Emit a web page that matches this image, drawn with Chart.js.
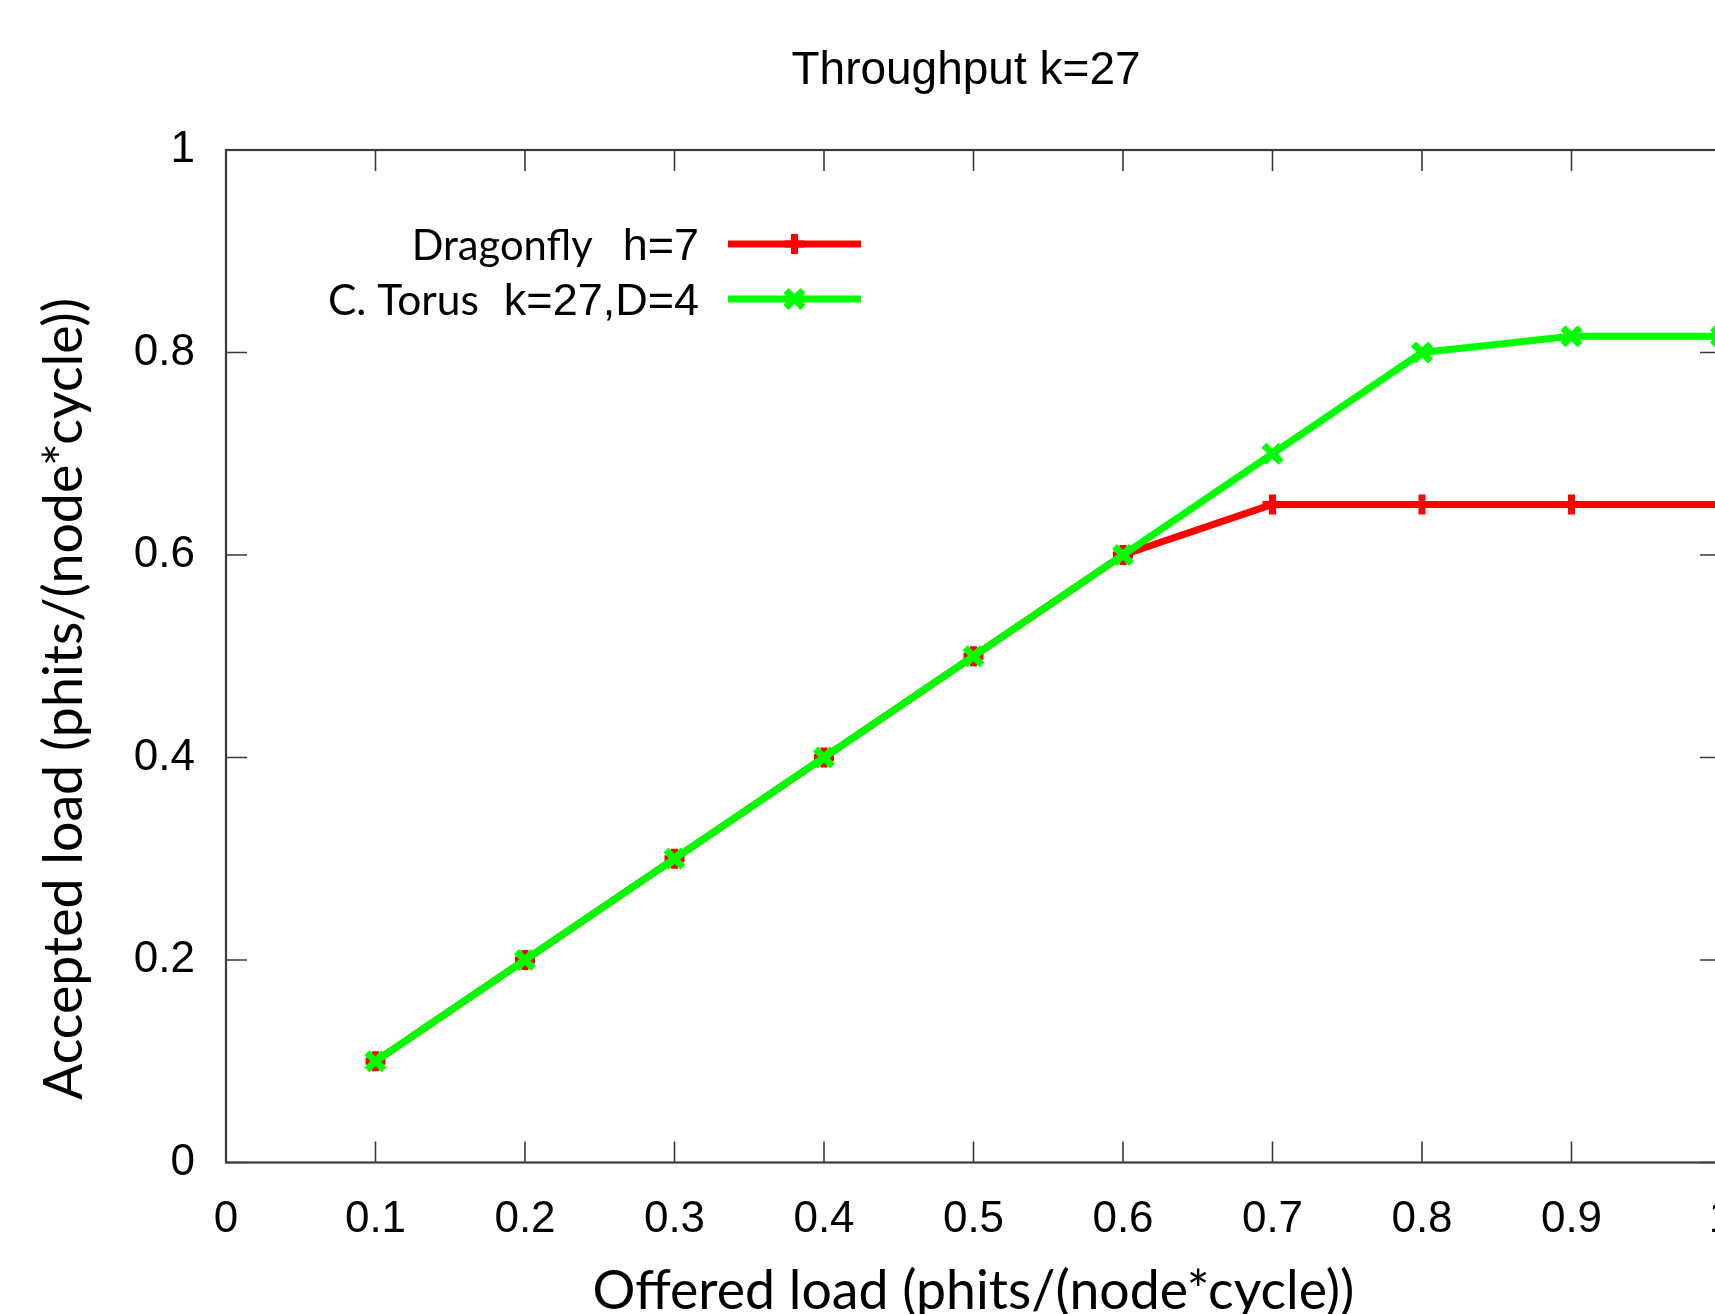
<!DOCTYPE html>
<html>
<head>
<meta charset="utf-8">
<script src="https://cdn.jsdelivr.net/npm/chart.js@4.4.1/dist/chart.umd.min.js"></script>
<style>
  html, body { margin: 0; padding: 0; background: #fff; overflow: hidden; }
  #wrap { position: absolute; left: 0; top: 0; width: 1800px; height: 1340px; }
</style>
</head>
<body>
<div id="wrap"><canvas id="my-chart" width="1800" height="1340"></canvas></div>
<script>
const offeredLoad = [0.1, 0.2, 0.3, 0.4, 0.5, 0.6, 0.7, 0.8, 0.9, 1.0];
const dragonfly = [0.1, 0.2, 0.3, 0.4, 0.5, 0.6, 0.65, 0.65, 0.65, 0.65];
const torus = [0.1, 0.2, 0.3, 0.4, 0.5, 0.6, 0.7, 0.8, 0.816, 0.816];
const seriesNames = ["Dragonfly", "C. Torus"];
const seriesParams = ["h=7", "k=27,D=4"];
const chartTitle = "Throughput k=27";
const xTitle = "Offered load (phits/(node*cycle))";
const yTitle = "Accepted load (phits/(node*cycle))";

const ARIAL = "'Liberation Sans', Arial, sans-serif";
const CALI = "Lato, 'Open Sans', sans-serif";
const AXIS = "#3a3a3a";

// font size that makes a string a given width
const fitSize = (ctx, text, family, width) => {
  ctx.font = `100px ${family}`;
  return (100 * width) / ctx.measureText(text).width;
};

const toPoints = (ys) => offeredLoad.map((x, i) => ({ x: x, y: ys[i] }));

// gnuplot style box, inward ticks, titles and legend
const gnuplotLook = {
  id: "gnuplotLook",
  afterDatasetsDraw(chart) {
    const ctx = chart.ctx;
    const a = chart.chartArea;
    const xs = chart.scales.x;
    const ys = chart.scales.y;
    ctx.save();

    // inward tick marks on all four sides
    ctx.strokeStyle = AXIS;
    ctx.lineWidth = 1.6;
    ctx.beginPath();
    xs.ticks.forEach((t) => {
      const px = xs.getPixelForValue(t.value);
      ctx.moveTo(px, a.bottom); ctx.lineTo(px, a.bottom - 21);
      ctx.moveTo(px, a.top); ctx.lineTo(px, a.top + 21);
    });
    ys.ticks.forEach((t) => {
      const py = ys.getPixelForValue(t.value);
      ctx.moveTo(a.left, py); ctx.lineTo(a.left + 21, py);
      ctx.moveTo(a.right, py); ctx.lineTo(a.right - 21, py);
    });
    ctx.stroke();

    ctx.lineWidth = 2.2;
    ctx.strokeRect(a.left, a.top, a.right - a.left, a.bottom - a.top);

    // title
    ctx.fillStyle = "#000";
    ctx.font = `46px ${ARIAL}`;
    ctx.textAlign = "center";
    ctx.textBaseline = "alphabetic";
    ctx.fillText(chartTitle, 966, 84);

    // x axis title
    let s = fitSize(ctx, xTitle, CALI, 762);
    ctx.font = `${s}px ${CALI}`;
    ctx.fillText(xTitle, (a.left + a.right) / 2, 1309);

    // y axis title
    s = fitSize(ctx, yTitle, CALI, 802);
    ctx.save();
    ctx.translate(82, 699);
    ctx.rotate(-Math.PI / 2);
    ctx.font = `${s}px ${CALI}`;
    ctx.fillText(yTitle, 0, 0);
    ctx.restore();

    // legend
    const nameWidths = [181, 151];
    const gaps = [30, 25];
    chart.data.datasets.forEach((ds, i) => {
      const ly = 244 + i * 55;
      ctx.textAlign = "right";
      ctx.font = `45px ${ARIAL}`;
      ctx.fillText(seriesParams[i], 699, ly + 16);
      const pw = ctx.measureText(seriesParams[i]).width;
      const ns = fitSize(ctx, seriesNames[i], CALI, nameWidths[i]);
      ctx.font = `${ns}px ${CALI}`;
      ctx.fillText(seriesNames[i], 699 - pw - gaps[i], ly + 16);

      ctx.strokeStyle = ds.borderColor;
      ctx.lineWidth = ds.borderWidth;
      ctx.beginPath();
      ctx.moveTo(728, ly);
      ctx.lineTo(861, ly);
      ctx.stroke();
      Chart.helpers.drawPoint(ctx, {
        pointStyle: ds.pointStyle,
        radius: ds.pointRadius,
        borderWidth: ds.pointBorderWidth,
        rotation: 0
      }, 794.5, ly);
    });
    ctx.restore();
  }
};

const ctx = document.getElementById("my-chart").getContext("2d");
const chart = new Chart(ctx, {
  type: "line",
  data: {
    datasets: [
      {
        label: seriesNames[0] + "  " + seriesParams[0],
        data: toPoints(dragonfly),
        borderColor: "#ff0000",
        backgroundColor: "#ff0000",
        borderWidth: 7,
        pointStyle: "cross",
        pointRadius: 10,
        pointBorderWidth: 7,
        pointBorderColor: "#ff0000",
        order: 2
      },
      {
        label: seriesNames[1] + "  " + seriesParams[1],
        data: toPoints(torus),
        borderColor: "#00ff00",
        backgroundColor: "#00ff00",
        borderWidth: 7,
        pointStyle: "crossRot",
        pointRadius: 12,
        pointBorderWidth: 7,
        pointBorderColor: "#00ff00",
        order: 1
      }
    ]
  },
  options: {
    responsive: false,
    animation: false,
    devicePixelRatio: 1,
    layout: { padding: { top: 150, right: 79, bottom: 0, left: 0 } },
    plugins: {
      legend: { display: false },
      title: { display: false },
      tooltip: { enabled: false }
    },
    elements: { line: { tension: 0, borderCapStyle: "round", borderJoinStyle: "round" } },
    scales: {
      x: {
        type: "linear",
        min: 0,
        max: 1,
        grid: { display: false, drawTicks: false },
        border: { display: false },
        ticks: {
          stepSize: 0.1,
          padding: 31,
          color: "#000",
          font: { family: ARIAL, size: 44 },
          maxRotation: 0,
          autoSkip: false,
          callback: (v) => String(Math.round(v * 10) / 10)
        },
        afterFit: (scale) => { scale.height = 1340 - 1162.5; }
      },
      y: {
        min: 0,
        max: 1,
        grid: { display: false, drawTicks: false },
        border: { display: false },
        ticks: {
          stepSize: 0.2,
          padding: 31,
          color: "#000",
          font: { family: ARIAL, size: 44 },
          callback: (v) => String(Math.round(v * 10) / 10)
        },
        afterFit: (scale) => { scale.width = 226; }
      }
    }
  },
  plugins: [gnuplotLook]
});
</script>
</body>
</html>
